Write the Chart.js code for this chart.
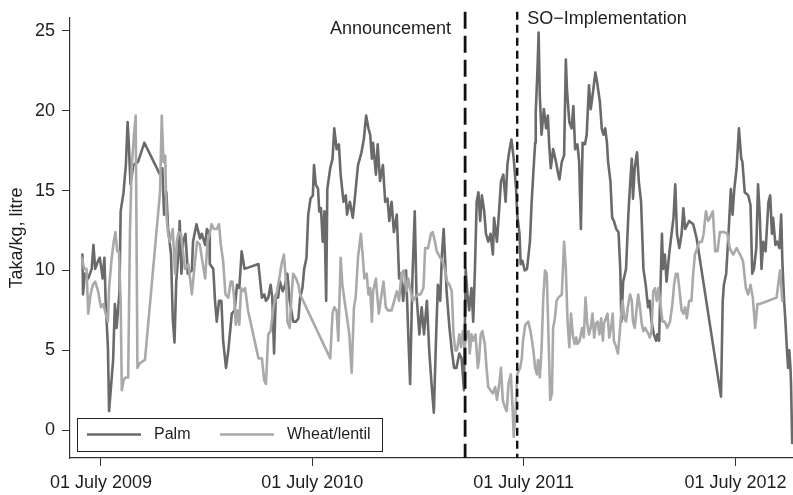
<!DOCTYPE html>
<html>
<head>
<meta charset="utf-8">
<script src="https://cdn.jsdelivr.net/npm/chart.js@4.4.1/dist/chart.umd.min.js"></script>
<style>
  body { margin: 0; background: #fff; }
  #wrap { width: 793px; height: 495px; }
</style>
</head>
<body>
<div id="wrap"><canvas id="priceChart" width="793" height="495"></canvas></div>
<script>
// days counted from 01 July 2009
const palmDays = [
  -32, -31, -28, -22, -16, -13, -10, -5, -2, 3,
  6, 8, 12, 14, 21, 24, 27, 32, 34, 39,
  43, 46, 48, 51, 56, 64, 75, 102, 106, 109,
  113, 116, 121, 124, 127, 130, 134, 136, 139, 142,
  146, 150, 157, 159, 165, 171, 174, 180, 183, 187,
  188, 194, 197, 200, 204, 208, 211, 216, 220, 226,
  231, 235, 239, 243, 248, 272, 278, 282, 285, 289,
  293, 296, 299, 302, 306, 309, 314, 318, 322, 326,
  332, 337, 341, 344, 348, 351, 355, 358, 362, 366,
  368, 371, 375, 377, 380, 383, 386, 389, 391, 396,
  400, 403, 407, 411, 414, 419, 423, 425, 430, 435,
  439, 444, 450, 454, 458, 462, 465, 468, 470, 475,
  478, 482, 487, 491, 495, 498, 502, 506, 511, 515,
  518, 522, 527, 531, 534, 538, 542, 545, 550, 554,
  558, 563, 567, 571, 575, 579, 582, 586, 589, 592,
  597, 602, 606, 610, 614, 619, 623, 627, 630, 633,
  636, 640, 643, 646, 649, 652, 655, 658, 662, 665,
  669, 673, 677, 679, 684, 688, 691, 695, 699, 702,
  705, 709, 713, 717, 719, 723, 725, 728, 732, 736,
  741, 744, 747, 750, 751, 754, 756, 758, 761, 765,
  769, 772, 774, 777, 781, 786, 790, 792, 796, 800,
  803, 805, 809, 813, 816, 819, 823, 826, 829, 832,
  836, 839, 843, 846, 850, 854, 857, 862, 865, 868,
  871, 874, 876, 880, 883, 886, 890, 894, 897, 899,
  902, 907, 911, 914, 917, 919, 922, 926, 929, 933,
  937, 941, 945, 948, 951, 955, 959, 961, 964, 969,
  971, 974, 977, 982, 984, 989, 992, 995, 999, 1003,
  1006, 1009, 1016, 1023, 1029, 1071, 1074, 1076, 1080, 1084,
  1088, 1091, 1094, 1098, 1102, 1106, 1108, 1112, 1118, 1122,
  1125, 1128, 1132, 1135, 1138, 1141, 1144, 1148, 1153, 1156,
  1159, 1161, 1165, 1168, 1172, 1175, 1177, 1180, 1182, 1185,
  1187, 1189, 1191, 1192, 1194
];
const palmValues = [
  11.0, 8.5, 9.8, 9.5, 10.1, 11.6, 10.1, 10.6, 10.8, 9.5,
  10.8, 8.1, 5.2, 1.2, 4.4, 7.9, 6.4, 8.7, 13.7, 14.9,
  16.6, 19.3, 18.0, 15.4, 16.6, 16.8, 18.0, 16.0, 16.4, 13.5,
  14.9, 12.6, 11.0, 7.0, 5.5, 9.3, 11.2, 13.1, 9.8, 11.8,
  12.3, 9.8, 10.0, 11.8, 12.9, 12.0, 12.3, 11.6, 12.6, 12.3,
  10.4, 10.1, 8.1, 6.8, 8.1, 8.1, 5.6, 3.9, 5.0, 7.3,
  7.5, 9.1, 8.9, 11.2, 10.1, 10.4, 8.3, 8.5, 8.1, 8.3,
  9.1, 8.3, 4.8, 8.5, 8.3, 9.3, 8.7, 9.1, 9.8, 8.1,
  6.8, 6.8, 7.0, 8.3, 8.9, 10.1, 10.8, 13.5, 14.5, 14.7,
  16.6, 15.4, 15.1, 13.7, 13.9, 11.8, 13.7, 8.1, 15.1, 16.4,
  17.0, 18.9, 17.6, 17.9, 16.0, 14.3, 14.7, 13.5, 14.3, 13.3,
  14.7, 16.6, 17.4, 18.2, 19.7, 18.9, 18.5, 17.0, 18.0, 16.0,
  17.9, 15.6, 16.6, 14.3, 14.5, 13.1, 14.3, 12.4, 13.5, 9.5,
  9.8, 8.1, 10.0, 5.8, 2.9, 9.5, 13.7, 8.5, 6.0, 7.7,
  6.0, 8.1, 5.0, 2.9, 1.1, 6.0, 9.1, 8.1, 11.0, 12.6,
  8.7, 6.4, 5.0, 3.9, 3.9, 4.8, 4.5, 2.5, 10.1, 8.5,
  7.5, 8.9, 6.8, 10.1, 14.3, 14.9, 13.1, 14.7, 13.7, 12.3,
  11.8, 12.3, 11.0, 13.3, 11.8, 13.9, 15.6, 16.0, 14.3, 16.6,
  17.4, 18.2, 17.0, 15.1, 13.5, 12.3, 10.4, 10.6, 10.0, 10.1,
  11.8, 14.3, 16.2, 18.0, 19.9, 22.6, 24.9, 21.0, 18.5, 20.1,
  18.9, 19.7, 18.0, 16.4, 17.6, 16.8, 16.0, 15.7, 16.8, 17.2,
  23.2, 21.3, 19.3, 18.9, 20.3, 17.6, 17.9, 16.8, 12.6, 18.0,
  17.9, 18.5, 21.6, 20.1, 21.2, 22.4, 21.8, 20.5, 18.9, 18.5,
  18.9, 18.0, 16.8, 15.6, 13.3, 13.1, 12.6, 12.4, 10.1, 6.8,
  9.3, 10.1, 13.5, 15.4, 17.0, 14.5, 16.4, 17.4, 15.6, 14.3,
  10.1, 9.1, 7.7, 8.1, 6.8, 6.0, 5.6, 6.0, 5.6, 12.3,
  10.1, 11.0, 9.3, 11.2, 11.8, 13.3, 15.4, 12.3, 11.4, 12.3,
  13.9, 12.6, 13.1, 12.9, 12.0, 2.1, 8.1, 9.1, 9.8, 12.3,
  15.1, 13.5, 15.1, 16.4, 18.9, 17.0, 16.8, 14.9, 14.7, 14.1,
  9.8, 10.1, 11.4, 15.4, 13.5, 10.1, 11.8, 11.2, 14.3, 14.7,
  12.3, 13.3, 11.6, 11.8, 11.4, 13.5, 10.6, 8.1, 7.0, 5.0,
  3.9, 5.0, 3.9, 2.9, -0.8
];

const wheatDays = [
  -33, -29, -25, -22, -18, -14, -10, -5, 0, 4,
  8, 12, 14, 18, 22, 25, 28, 31, 34, 36,
  39, 42, 47, 50, 53, 57, 60, 63, 67, 76,
  102, 105, 108, 111, 113, 116, 119, 124, 128, 131,
  134, 138, 141, 145, 151, 157, 162, 166, 171, 175,
  180, 184, 188, 191, 195, 200, 204, 207, 211, 215,
  220, 224, 227, 230, 233, 236, 239, 242, 245, 249,
  254, 263, 272, 278, 282, 285, 289, 293, 298, 304,
  308, 312, 316, 320, 322, 326, 329, 332, 337, 341,
  344, 396, 400, 403, 407, 410, 414, 417, 420, 424,
  429, 433, 437, 440, 444, 449, 452, 455, 459, 462,
  465, 468, 470, 475, 477, 480, 483, 488, 492, 496,
  502, 508, 511, 515, 519, 523, 528, 531, 535, 539,
  542, 548, 552, 557, 560, 565, 570, 573, 577, 580,
  586, 590, 594, 598, 602, 606, 609, 612, 615, 619,
  622, 625, 628, 632, 635, 637, 640, 643, 647, 651,
  653, 656, 659, 663, 666, 669, 673, 677, 681, 684,
  688, 691, 694, 698, 701, 704, 708, 711, 713, 716,
  719, 724, 727, 729, 733, 738, 742, 747, 750, 753,
  755, 758, 761, 764, 767, 770, 773, 776, 779, 781,
  784, 787, 790, 796, 800, 803, 806, 809, 812, 815,
  818, 821, 823, 827, 831, 834, 837, 840, 843, 846,
  849, 852, 855, 858, 861, 864, 867, 869, 872, 875,
  878, 881, 884, 886, 890, 893, 895, 898, 901, 904,
  907, 910, 914, 917, 919, 922, 925, 928, 931, 934,
  937, 940, 943, 946, 948, 951, 954, 957, 960, 963,
  967, 970, 974, 978, 983, 987, 990, 993, 996, 999,
  1003, 1006, 1009, 1012, 1016, 1020, 1023, 1026, 1030, 1034,
  1038, 1041, 1045, 1049, 1052, 1057, 1061, 1065, 1069, 1077,
  1082, 1086, 1092, 1098, 1104, 1109, 1114, 1118, 1122, 1126,
  1130, 1134, 1138, 1167, 1173, 1177
];
const wheatValues = [
  10.8, 10.1, 10.1, 7.3, 8.5, 9.1, 9.3, 8.7, 7.7, 7.9,
  7.3, 6.8, 8.9, 10.6, 11.8, 12.4, 11.2, 11.2, 8.1, 2.5,
  3.1, 3.3, 3.3, 12.3, 16.4, 18.5, 19.7, 3.9, 4.2, 4.4,
  14.9, 19.7, 16.8, 17.2, 13.5, 12.3, 11.8, 12.6, 9.8, 11.8,
  12.4, 12.3, 11.4, 10.1, 10.4, 8.5, 10.4, 11.8, 11.6, 10.6,
  9.5, 11.8, 12.3, 12.9, 12.6, 12.6, 12.9, 11.6, 10.6, 8.5,
  8.3, 9.3, 9.3, 8.3, 6.6, 7.5, 6.6, 8.9, 8.7, 8.9,
  7.5, 6.0, 4.5, 4.5, 3.1, 2.9, 6.0, 6.2, 7.7, 8.7,
  9.5, 10.4, 11.0, 9.1, 6.8, 6.4, 8.3, 9.8, 9.5, 9.1,
  8.5, 4.5, 7.3, 7.7, 7.5, 5.6, 10.8, 9.1, 8.3, 7.3,
  6.0, 3.6, 7.7, 8.3, 10.8, 12.3, 11.0, 9.5, 9.8, 8.5,
  8.9, 6.8, 8.7, 9.5, 8.5, 7.3, 8.1, 9.3, 7.7, 7.5,
  7.5, 8.3, 8.7, 8.1, 9.8, 10.0, 8.7, 9.5, 8.7, 8.1,
  8.3, 8.5, 8.5, 8.9, 11.4, 11.4, 12.3, 12.4, 11.8, 11.2,
  10.8, 10.6, 10.1, 9.3, 9.1, 8.7, 6.0, 5.0, 5.0, 6.0,
  5.2, 6.2, 5.2, 6.0, 6.2, 4.8, 6.0, 5.6, 6.0, 3.9,
  4.4, 6.0, 6.2, 5.4, 3.9, 2.7, 2.5, 2.3, 2.7, 1.9,
  2.9, 3.9, 1.9, 1.4, 1.2, 2.9, 3.5, 1.4, -0.4, 1.1,
  3.5, 3.9, 4.5, 5.6, 6.6, 6.8, 6.2, 5.0, 3.9, 3.5,
  4.4, 3.3, 5.0, 8.3, 10.0, 9.8, 6.0, 1.9, 2.3, 6.4,
  7.0, 8.1, 8.3, 8.5, 11.8, 10.1, 6.8, 5.2, 7.3, 6.0,
  5.4, 5.8, 5.4, 5.6, 6.4, 5.8, 8.3, 6.7, 6.0, 6.4,
  7.3, 5.8, 6.7, 6.8, 6.0, 7.0, 5.6, 6.7, 7.0, 7.3,
  5.8, 6.4, 7.3, 5.6, 5.2, 4.8, 5.6, 7.0, 8.1, 7.0,
  6.8, 7.7, 8.5, 8.1, 6.8, 6.4, 7.5, 8.5, 7.7, 6.7,
  6.2, 6.4, 6.2, 6.0, 5.8, 6.2, 8.7, 8.9, 8.1, 8.9,
  7.7, 6.8, 6.8, 6.4, 6.8, 7.9, 9.1, 9.8, 9.8, 8.9,
  7.5, 7.3, 7.7, 7.0, 8.1, 8.1, 9.8, 11.0, 11.4, 11.8,
  11.8, 12.3, 13.7, 13.1, 13.3, 13.7, 11.2, 11.2, 12.4, 12.4,
  12.3, 11.4, 11.0, 11.4, 11.0, 10.6, 8.9, 8.5, 9.1, 8.3,
  6.4, 7.9, 7.9, 8.3, 10.0, 8.1
];

const xTickDays = [0, 365, 730, 1096];
const xTickLabels = ['01 July 2009', '01 July 2010', '01 July 2011', '01 July 2012'];
const yTicks = [0, 5, 10, 15, 20, 25];

const eventDays = [629, 719];
const eventLabels = ['Announcement', 'SO\u2212Implementation'];

const seriesLabels = ['Palm', 'Wheat/lentil'];
const seriesColors = ['#6a6a6a', '#a9a9a9'];

const FONT = "'Liberation Sans', Arial, Helvetica, sans-serif";
const textColor = '#1e1e1e';
const axisColor = '#333333';

const toPoints = (days, values) => days.map((d, i) => ({ x: d, y: values[i] }));

// dashed vertical markers with their captions
const eventLines = {
    id: 'eventLines',
    afterDatasetsDraw(chart) {
        const { ctx, chartArea, scales } = chart;
        const dashes = [[17, 7], [8, 5]];
        const widths = [2.8, 2.4];
        eventDays.forEach((day, i) => {
            const px = scales.x.getPixelForValue(day);
            ctx.save();
            ctx.strokeStyle = '#111';
            ctx.lineWidth = widths[i];
            ctx.setLineDash(dashes[i]);
            ctx.beginPath();
            ctx.moveTo(px, chartArea.top - 6);
            ctx.lineTo(px, chartArea.bottom);
            ctx.stroke();
            ctx.restore();

            ctx.save();
            ctx.fillStyle = textColor;
            ctx.font = `18px ${FONT}`;
            ctx.textBaseline = 'middle';
            if (i === 0) {
                ctx.textAlign = 'right';
                ctx.fillText(eventLabels[i], px - 14, 29);
            } else {
                ctx.textAlign = 'left';
                ctx.fillText(eventLabels[i], px + 10, 19);
            }
            ctx.restore();
        });
    }
};

// boxed legend sitting in the bottom-left corner of the plot
const boxLegend = {
    id: 'boxLegend',
    afterDraw(chart) {
        const { ctx, chartArea } = chart;
        const left = chartArea.left + 7;
        const top = chartArea.bottom - 40;
        const midY = top + 16.5;
        ctx.save();
        ctx.fillStyle = '#fff';
        ctx.fillRect(left, top, 305, 33);
        ctx.strokeStyle = '#222';
        ctx.lineWidth = 1;
        ctx.strokeRect(left + 0.5, top + 0.5, 305, 33);

        const offsets = [10, 143];
        ctx.font = `16px ${FONT}`;
        ctx.textBaseline = 'middle';
        ctx.textAlign = 'left';
        seriesLabels.forEach((label, i) => {
            const x0 = left + offsets[i];
            ctx.strokeStyle = seriesColors[i];
            ctx.lineWidth = 2.6;
            ctx.beginPath();
            ctx.moveTo(x0, midY);
            ctx.lineTo(x0 + 54, midY);
            ctx.stroke();
            ctx.fillStyle = textColor;
            ctx.fillText(label, x0 + 67, midY);
        });
        ctx.restore();
    }
};

const ctx = document.getElementById('priceChart').getContext('2d');

new Chart(ctx, {
    type: 'line',
    data: {
        datasets: [
            {
                label: seriesLabels[0],
                data: toPoints(palmDays, palmValues),
                borderColor: seriesColors[0],
                borderWidth: 2.6,
                order: 1,
            },
            {
                label: seriesLabels[1],
                data: toPoints(wheatDays, wheatValues),
                borderColor: seriesColors[1],
                borderWidth: 2.6,
                order: 0,
            },
        ],
    },
    options: {
        responsive: false,
        animation: false,
        layout: { padding: { top: 15, right: 0, left: 0, bottom: 0 } },
        elements: {
            point: { radius: 0 },
            line: { tension: 0, borderJoinStyle: 'round', borderCapStyle: 'round' },
        },
        plugins: {
            legend: { display: false },
            tooltip: { enabled: false },
        },
        scales: {
            x: {
                type: 'linear',
                min: -53.5,
                max: 1195.4,
                afterBuildTicks: (scale) => {
                    scale.ticks = xTickDays.map((v) => ({ value: v }));
                },
                afterFit: (scale) => { scale.height = 37; },
                ticks: {
                    callback: (value, index) => xTickLabels[index],
                    color: textColor,
                    font: { family: FONT, size: 18 },
                    padding: 6,
                    maxRotation: 0,
                    autoSkip: false,
                },
                grid: { drawOnChartArea: false, tickLength: 8, color: axisColor },
                border: { color: axisColor, width: 1.2 },
            },
            y: {
                min: -1.74,
                max: 25.82,
                afterBuildTicks: (scale) => {
                    scale.ticks = yTicks.map((v) => ({ value: v }));
                },
                afterFit: (scale) => { scale.width = 70; },
                ticks: {
                    color: textColor,
                    font: { family: FONT, size: 18 },
                    padding: 7,
                },
                grid: { drawOnChartArea: false, tickLength: 8, color: axisColor },
                border: { color: axisColor, width: 1.2 },
                title: {
                    display: true,
                    text: 'Taka/kg, litre',
                    color: textColor,
                    font: { family: FONT, size: 18 },
                    padding: { top: 6, bottom: 0 },
                },
            },
        },
    },
    plugins: [eventLines, boxLegend],
});
</script>
</body>
</html>
